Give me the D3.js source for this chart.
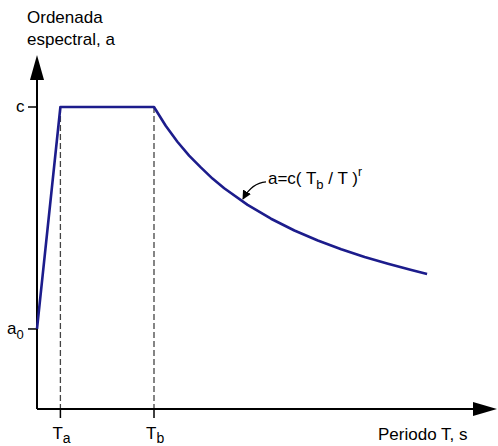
<!DOCTYPE html>
<html>
<head>
<meta charset="utf-8">
<script src="https://cdn.jsdelivr.net/npm/d3@7"></script>
<style>
  body { margin: 0; background: #fff; }
  svg text { font-family: "Liberation Sans", Arial, sans-serif; fill: #000; }
</style>
</head>
<body>
<svg width="498" height="446"></svg>
<script>
// spectrum points (period T, ordinate a)
var periods = [0, 0.1, 0.5, 0.55, 0.6, 0.65, 0.7, 0.75, 0.8, 0.9, 1.0, 1.1, 1.2, 1.3, 1.4, 1.5, 1.6, 1.667];
var ordinates = [0.265, 1, 1, 0.938, 0.885, 0.839, 0.8, 0.763, 0.731, 0.676, 0.63, 0.591, 0.558, 0.529, 0.503, 0.481, 0.46, 0.447];
var markT = [0.1, 0.5];          // Ta, Tb
var markTLabels = ['a', 'b'];
var markA = [1, 0.265];          // c, a0
var markALabels = [['c', ''], ['a', '0']];
var noteT = 0.876;               // where the formula arrow points

var svg = d3.select('svg');
var x = d3.scaleLinear().domain([0, 1]).range([37, 271]);
var y = d3.scaleLinear().domain([0, 1]).range([409, 107]);

var pts = periods.map(function(t, i) { return [t, ordinates[i]]; });

// dashed guides at Ta, Tb
svg.selectAll('.guide')
  .data(markT)
  .enter()
  .append('line')
  .attr('class', 'guide')
  .attr('x1', function(d) { return x(d); })
  .attr('x2', function(d) { return x(d); })
  .attr('y1', y(1))
  .attr('y2', y(0))
  .attr('stroke', '#444')
  .attr('stroke-width', 1.3)
  .attr('stroke-dasharray', '6,3');

// axes
var x0 = x(0), y0 = y(0);
svg.append('line').attr('x1', x0).attr('x2', x0).attr('y1', y0).attr('y2', 78)
  .attr('stroke', '#000').attr('stroke-width', 2);
svg.append('line').attr('x1', x0).attr('x2', 475).attr('y1', y0).attr('y2', y0)
  .attr('stroke', '#000').attr('stroke-width', 2);
svg.append('path').attr('d', 'M' + x0 + ',55L' + (x0 - 7) + ',80L' + (x0 + 7) + ',80Z').attr('fill', '#000');
svg.append('path').attr('d', 'M497,' + y0 + 'L473,' + (y0 - 7) + 'L473,' + (y0 + 7) + 'Z').attr('fill', '#000');

// y ticks
svg.selectAll('.ytick')
  .data(markA)
  .enter()
  .append('line')
  .attr('x1', x0 - 9).attr('x2', x0)
  .attr('y1', function(d) { return y(d); })
  .attr('y2', function(d) { return y(d); })
  .attr('stroke', '#000').attr('stroke-width', 1.5);

var ylab = svg.selectAll('.ylab')
  .data(markA)
  .enter()
  .append('text')
  .attr('x', function(d, i) { return i == 0 ? 16 : 7; })
  .attr('y', function(d) { return y(d) + 5; })
  .style('font-size', '17px');
ylab.append('tspan').text(function(d, i) { return markALabels[i][0]; });
ylab.append('tspan').attr('dy', 5).style('font-size', '13px')
  .text(function(d, i) { return markALabels[i][1]; });

// x ticks
svg.selectAll('.xtick')
  .data(markT)
  .enter()
  .append('line')
  .attr('x1', function(d) { return x(d); })
  .attr('x2', function(d) { return x(d); })
  .attr('y1', y0).attr('y2', y0 + 9)
  .attr('stroke', '#000').attr('stroke-width', 1.5);

var xlab = svg.selectAll('.xlab')
  .data(markT)
  .enter()
  .append('text')
  .attr('x', function(d) { return x(d) - 8; })
  .attr('y', 439)
  .style('font-size', '17px');
xlab.append('tspan').text('T');
xlab.append('tspan').attr('dy', 4).style('font-size', '14px')
  .text(function(d, i) { return markTLabels[i]; });

// spectrum line
svg.append('path')
  .datum(pts)
  .attr('fill', 'none')
  .attr('stroke', '#1c1c8c')
  .attr('stroke-width', 2.6)
  .attr('stroke-linejoin', 'round')
  .attr('d', d3.line()
    .x(function(d) { return x(d[0]); })
    .y(function(d) { return y(d[1]); }));

// formula note with curved arrow
var noteA = d3.scaleLinear().domain(periods.slice(2)).range(ordinates.slice(2))(noteT);
var tx = x(noteT), ty = y(noteA);
svg.append('defs').append('marker')
  .attr('id', 'head')
  .attr('viewBox', '0 0 10 10')
  .attr('refX', 9).attr('refY', 5)
  .attr('markerWidth', 9).attr('markerHeight', 9)
  .attr('markerUnits', 'userSpaceOnUse')
  .attr('orient', 'auto')
  .append('path').attr('d', 'M0,0L10,5L0,10Z').attr('fill', '#000');
svg.append('path')
  .attr('d', 'M' + (tx + 24) + ',' + (ty - 19) + 'Q' + (tx + 10) + ',' + (ty - 18) + ' ' + (tx + 1) + ',' + (ty - 2))
  .attr('fill', 'none').attr('stroke', '#000').attr('stroke-width', 1.2)
  .attr('marker-end', 'url(#head)');

var note = svg.append('text').attr('x', tx + 26).attr('y', ty - 17).style('font-size', '17px');
note.append('tspan').text('a=c( T');
note.append('tspan').attr('dy', 5).style('font-size', '13px').text('b');
note.append('tspan').attr('dy', -5).text(' / T )');
note.append('tspan').attr('dy', -8).style('font-size', '12px').text('r');

// axis titles
svg.append('text').attr('x', 27).attr('y', 23).style('font-size', '17px').text('Ordenada');
svg.append('text').attr('x', 27).attr('y', 45).style('font-size', '17px').text('espectral, a');
svg.append('text').attr('x', 378).attr('y', 440).style('font-size', '17px').text('Periodo T, s');
</script>
</body>
</html>
